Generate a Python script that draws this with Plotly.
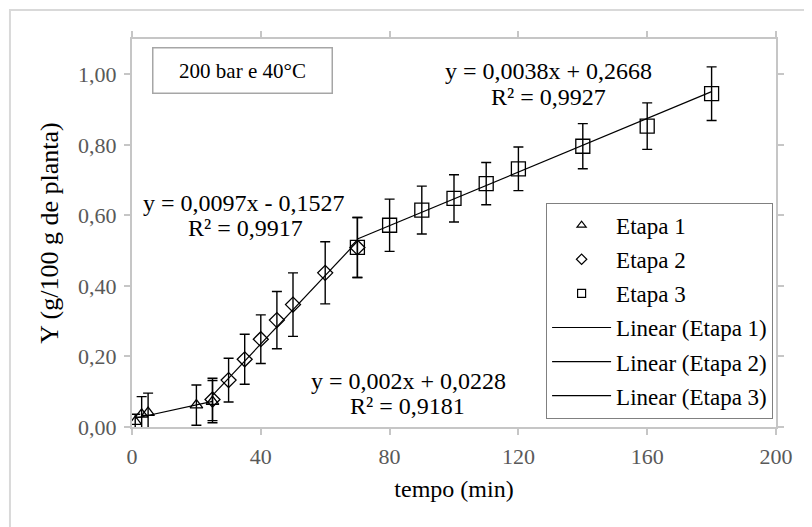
import numpy as np
import plotly.graph_objects as go

# ---- data ----
etapa1_t = [1, 3, 5, 20, 25]
etapa1_y = [0.015, 0.036, 0.041, 0.062, 0.072]
etapa1_err = [0.021, 0.05, 0.055, 0.057, 0.06]

etapa2_t = [25, 30, 35, 40, 45, 50, 60, 70]
etapa2_y = [0.078, 0.133, 0.192, 0.249, 0.303, 0.347, 0.437, 0.509]
etapa2_err = [0.06, 0.062, 0.071, 0.069, 0.081, 0.09, 0.088, 0.085]

etapa3_t = [70, 80, 90, 100, 110, 120, 140, 160, 180]
etapa3_y = [0.509, 0.572, 0.615, 0.648, 0.690, 0.732, 0.796, 0.853, 0.945]
etapa3_err = [0.085, 0.074, 0.068, 0.067, 0.060, 0.062, 0.064, 0.066, 0.076]

series_names = ["Etapa 1", "Etapa 2", "Etapa 3"]
trend_slopes = [0.002, 0.0097, 0.0038]
trend_intercepts = [0.0228, -0.1527, 0.2668]
equation_texts = ["y = 0,002x + 0,0228", "y = 0,0097x - 0,1527", "y = 0,0038x + 0,2668"]
r2_texts = ["R² = 0,9181", "R² = 0,9917", "R² = 0,9927"]

x_ticks = [0, 40, 80, 120, 160, 200]
y_ticks = [0.0, 0.2, 0.4, 0.6, 0.8, 1.0]

FONT = "Liberation Serif"
symbols = ["triangle-up-open", "diamond-open", "square-open"]
sizes = [11, 11.5, 14]
ts = [etapa1_t, etapa2_t, etapa3_t]
ys = [etapa1_y, etapa2_y, etapa3_y]
errs = [etapa1_err, etapa2_err, etapa3_err]

fig = go.Figure()

# data series with error bars
for i in range(3):
    fig.add_trace(go.Scatter(
        x=ts[i], y=ys[i], mode="markers", showlegend=False, name=series_names[i],
        marker=dict(symbol=symbols[i], size=sizes[i], color="black", line=dict(width=1.3, color="black")),
        error_y=dict(type="data", array=errs[i], color="black", thickness=1.4, width=5),
    ))

# trendlines
for i in range(3):
    xt = np.array([min(ts[i]), max(ts[i])], dtype=float)
    yt = trend_slopes[i] * xt + trend_intercepts[i]
    fig.add_trace(go.Scatter(
        x=xt, y=yt, mode="lines", showlegend=False,
        line=dict(color="black", width=1.2),
    ))

# legend entries
for i in range(3):
    fig.add_trace(go.Scatter(
        x=[None], y=[None], mode="markers", name=series_names[i], legendgroup=f"m{i}",
        marker=dict(symbol=symbols[i], size=8, color="black", line=dict(width=1.2, color="black")),
    ))
for i in range(3):
    fig.add_trace(go.Scatter(
        x=[None], y=[None], mode="lines", name=f"Linear ({series_names[i]})", legendgroup=f"l{i}",
        line=dict(color="black", width=1.2),
    ))

axis_common = dict(
    showline=True, mirror="ticks", linecolor="#C6C6C6", linewidth=2,
    ticks="outside", ticklen=6, tickcolor="#C6C6C6", tickwidth=2,
    showgrid=False, zeroline=False, ticklabelstandoff=3,
    tickfont=dict(family=FONT, size=22, color="#595959"),
)

fig.update_layout(
    width=812, height=527, autosize=False,
    margin=dict(l=124, r=44, t=31, b=108),
    paper_bgcolor="white", plot_bgcolor="white",
    separators=",.",
    font=dict(family=FONT, color="black"),
    xaxis=dict(range=[0, 200], tickvals=x_ticks,
               title=dict(text="tempo (min)", font=dict(family=FONT, size=24, color="black"), standoff=12),
               **axis_common),
    yaxis=dict(range=[0, 1.1], tickvals=y_ticks, tickformat=".2f",
               title=dict(text="Y (g/100 g de planta)", font=dict(family=FONT, size=26, color="black"), standoff=12),
               **axis_common),
    legend=dict(x=0.643, y=0.578, xanchor="left", yanchor="top",
                bordercolor="#808080", borderwidth=1, bgcolor="white",
                font=dict(family=FONT, size=23, color="black"),
                tracegroupgap=1.2, itemwidth=59, traceorder="grouped"),
)

# equation annotations (positions in axis units)
eq_pos = [(85.9, 0.131, 85.5, 0.060), (34.9, 0.634, 35.2, 0.565), (129.5, 1.009, 129.4, 0.935)]
for i in range(3):
    x1, y1, x2, y2 = eq_pos[i]
    fig.add_annotation(x=x1, y=y1, xref="x", yref="y", text=equation_texts[i], showarrow=False,
                       font=dict(family=FONT, size=24, color="black"))
    fig.add_annotation(x=x2, y=y2, xref="x", yref="y", text=r2_texts[i], showarrow=False,
                       font=dict(family=FONT, size=24, color="black"))

# condition box
fig.add_annotation(x=34.4, y=1.011, xref="x", yref="y", text="200 bar e 40°C", showarrow=False,
                   font=dict(family=FONT, size=21, color="black"),
                   bordercolor="#A6A6A6", borderwidth=1.5, borderpad=0, width=178, height=44,
                   bgcolor="white")

# outer chart border
fig.add_shape(type="rect", xref="paper", yref="paper", x0=-0.1895, x1=1.2, y0=-0.5, y1=1.0747,
              line=dict(color="#D9D9D9", width=2), layer="below")

fig.write_html("out.html")
